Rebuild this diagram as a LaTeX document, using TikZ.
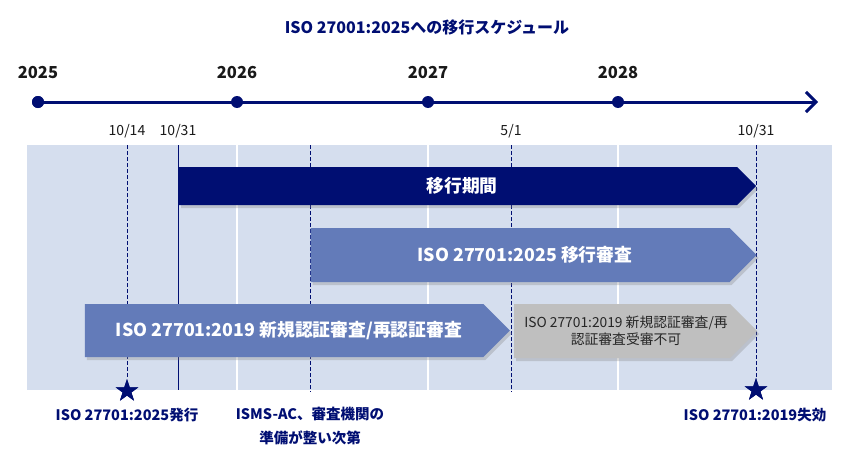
\documentclass[tikz,border=0pt]{standalone}
\usepackage{fontspec}
\setmainfont{Noto Sans CJK JP}
\usetikzlibrary{arrows.meta}
\usetikzlibrary{shapes.geometric}
\usetikzlibrary{shapes.symbols}
\usetikzlibrary{shadows}

\definecolor{navy}{RGB}{0,14,114}
\definecolor{midblue}{RGB}{99,123,185}
\definecolor{paleblue}{RGB}{213,222,238}
\definecolor{bargray}{RGB}{191,191,191}

\tikzset{
 dot/.style={circle, fill=navy, minimum size=12pt, inner sep=0pt},
 yearlbl/.style={font=\fontsize{16.5}{18}\selectfont\bfseries, text=black!90},
 datelbl/.style={font=\fontsize{14}{16}\selectfont, text=black!90},
 phase/.style={signal, signal to=east, signal pointer angle=90, inner sep=0pt,
  text=white, font=\fontsize{17.8}{20}\selectfont\bfseries,
  drop shadow={shadow xshift=2pt, shadow yshift=-3pt, opacity=.3}},
 starmark/.style={star, star points=5, star point ratio=2.6, fill=navy, minimum size=24pt, inner sep=0pt},
 milestone/.style={navy, line width=.9pt, dash pattern=on 4pt off 2pt},
 notelbl/.style={text=navy, font=\fontsize{14.5}{24}\selectfont\bfseries, align=center},
}

\begin{document}
\begin{tikzpicture}[x=1pt, y=-1pt]
\useasboundingbox (0,0) rectangle (859,460);

\node[text=navy, font=\fontsize{16}{18}\selectfont\bfseries] (title) at (427,27) {ISO 27001:2025への移行スケジュール};

\foreach \x/\yr in {38/2025, 237/2026, 428/2027, 618/2028} {
 \node[yearlbl] (l\yr) at (\x,73) {\yr};
};
\coordinate (tlend) at (818,102);
\node[dot] (y2025) at (38,102) {};
\draw[navy, line width=3pt, -{Straight Barb[length=10pt, width=20pt, line width=3pt]}] (y2025.center) -- (tlend);
\foreach \x/\yr in {38/2025, 237/2026, 428/2027, 618/2028} {
 \node[dot] (y\yr) at (\x,102) {};
};

\foreach \x/\d [count=\i] in {127/10\slash14, 178/10\slash31, 511/5\slash1, 756/10\slash31} {
 \node[datelbl] (d\i) at (\x,131) {\d};
 \coordinate (t\i) at (\x,145);
};

\fill[paleblue] (27,145) rectangle (832,390);
\foreach \x in {237,428,618} {
 \draw[white, line width=1.2pt] (\x,145) -- (\x,390);
};

\node[starmark] (s1) at (127,391) {};
\node[starmark] (s4) at (756,390) {};
\coordinate (t5) at (310,145);
\coordinate (b5) at (310,392);
\coordinate (b3) at (511,392);
\coordinate (b2) at (178,390);

\draw[milestone] (t1) -- (s1);
\draw[milestone] (t5) -- (b5);
\draw[milestone] (t3) -- (b3);
\draw[milestone] (t4) -- (s4);
\draw[navy, line width=.9pt] (t2) -- (b2);

% centre of each bar = centre of its square part
\node[phase, fill=navy, minimum width=577pt, minimum height=38pt] (period) at (458,186) {\hspace{8pt}移行期間};
\node[phase, fill=midblue, minimum width=446pt, minimum height=54pt] (audit25) at (520,255) {\hspace{10pt}ISO 27701:2025 移行審査};
\node[phase, fill=midblue, minimum width=425pt, minimum height=53pt] (audit19) at (284,330.5) {\hspace{10pt}ISO 27701:2019 新規認証審査/再認証審査};
\node[phase, fill=bargray, text=black!85, font=\fontsize{13.8}{17}\selectfont, align=center,
 minimum width=243pt, minimum height=54pt] (closed19) at (622,331) {\hspace{8pt}ISO 27701:2019 新規認証審査/再\\\hspace{8pt}認証審査受審不可};

\node[starmark] at (s1) {};
\node[starmark] at (s4) {};

\node[notelbl] (n1) at (127,415) {ISO 27701:2025発行};
\node[notelbl] (n2) at (310,426) {ISMS-AC、審査機関の\\準備が整い次第};
\node[notelbl] (n3) at (755,415) {ISO 27701:2019失効};
\end{tikzpicture}
\end{document}
